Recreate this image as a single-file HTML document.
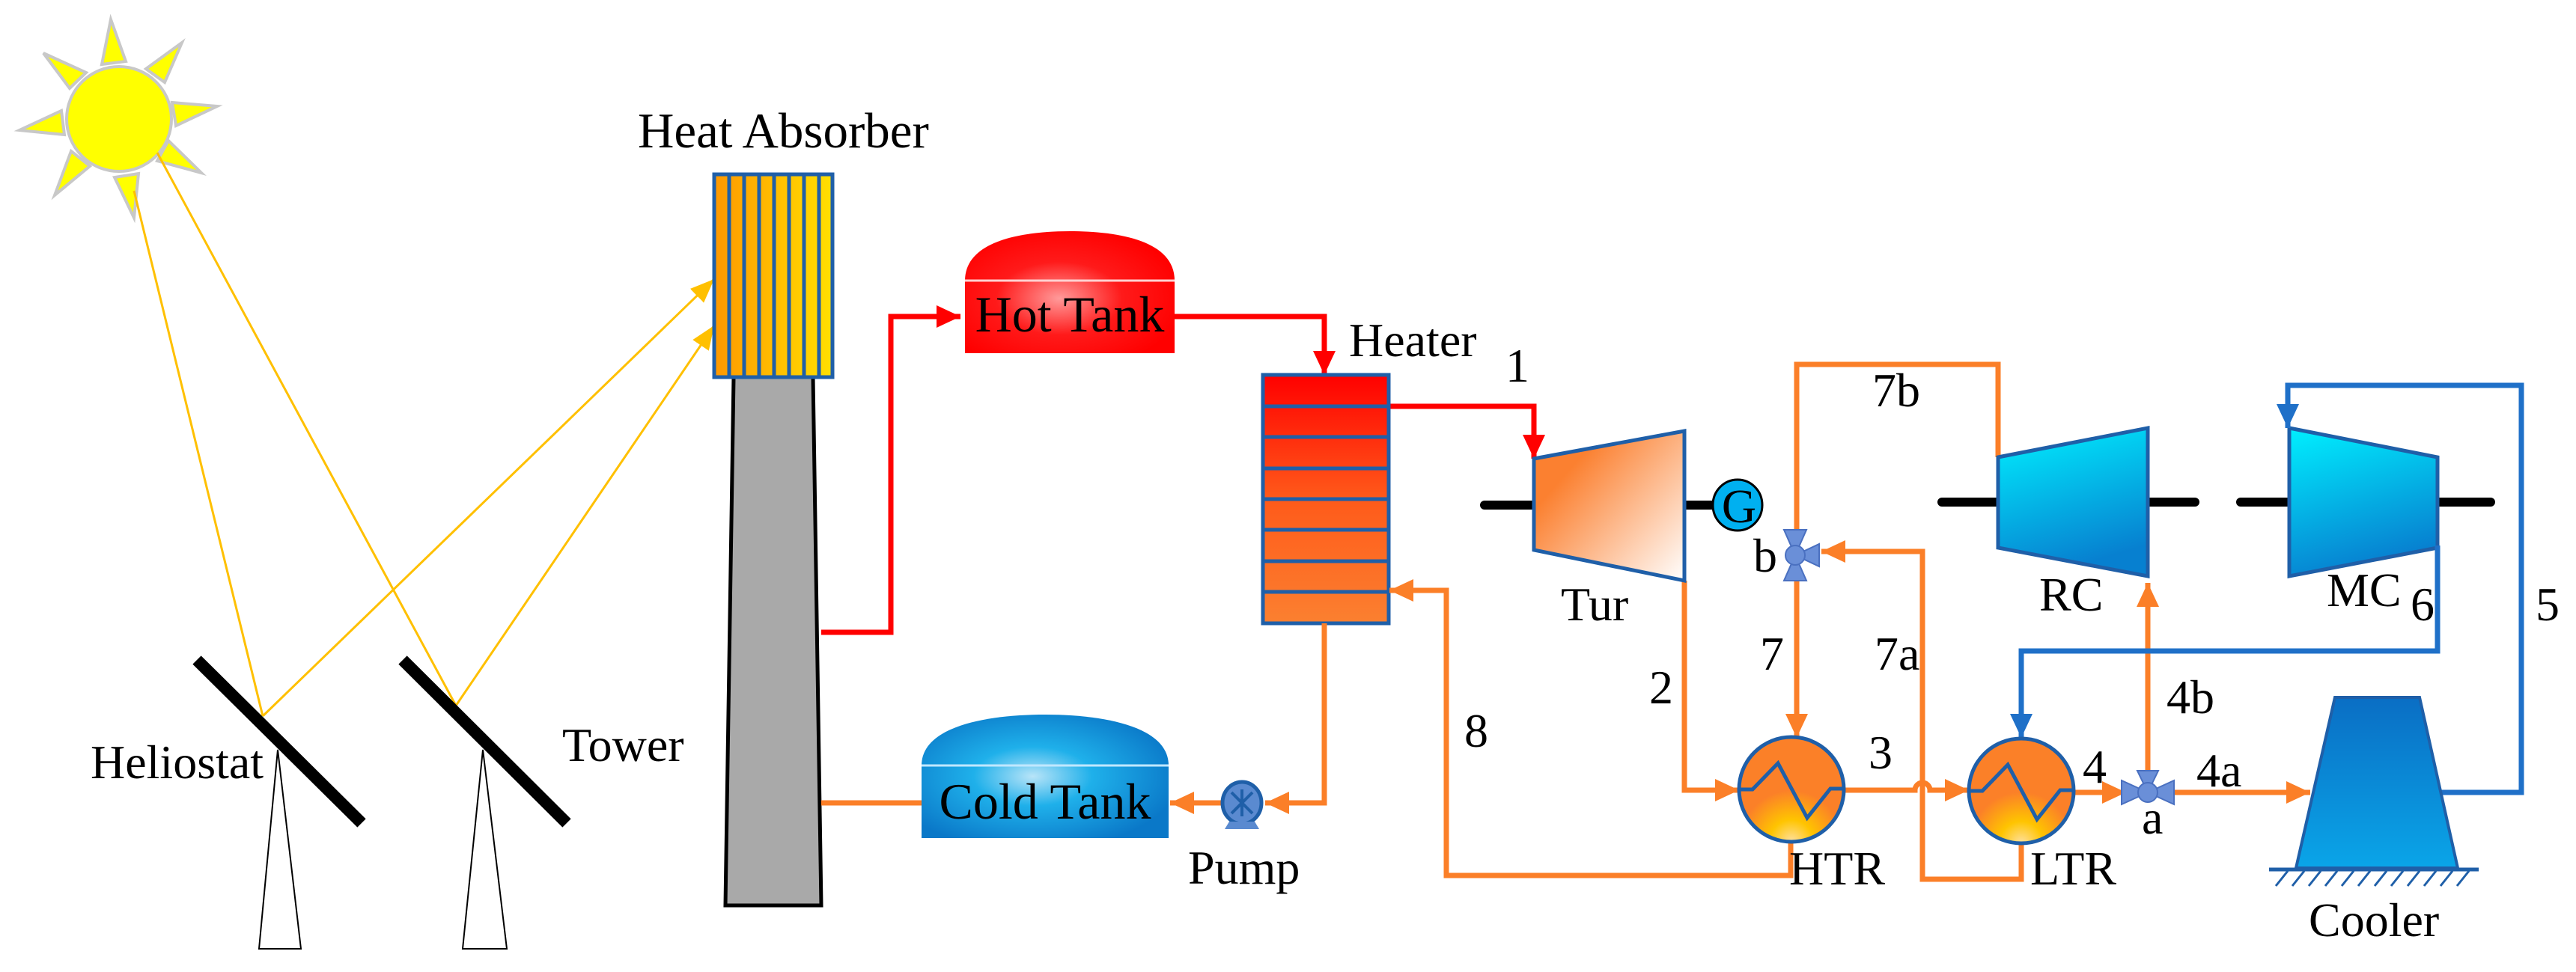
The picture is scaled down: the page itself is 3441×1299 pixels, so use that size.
<!DOCTYPE html>
<html><head><meta charset="utf-8"><style>
html,body{margin:0;padding:0;background:#fff}
svg{display:block}
svg text{font-family:"Liberation Serif","Tinos","Times New Roman",Times,"DejaVu Serif",serif;font-size:64px;fill:#000}
</style></head><body>
<svg width="3441" height="1299" viewBox="0 0 3441 1299" xmlns="http://www.w3.org/2000/svg">
<defs>
<marker id="ao" markerUnits="userSpaceOnUse" markerWidth="34" markerHeight="30" refX="32" refY="15" orient="auto"><path d="M0,0 L32,15 L0,30 Z" fill="#fb7f28"/></marker>
<marker id="ar" markerUnits="userSpaceOnUse" markerWidth="34" markerHeight="30" refX="32" refY="15" orient="auto"><path d="M0,0 L32,15 L0,30 Z" fill="#ff0000"/></marker>
<marker id="ab" markerUnits="userSpaceOnUse" markerWidth="34" markerHeight="30" refX="32" refY="15" orient="auto"><path d="M0,0 L32,15 L0,30 Z" fill="#1f70c8"/></marker>
<marker id="ay" markerUnits="userSpaceOnUse" markerWidth="34" markerHeight="26" refX="32" refY="13" orient="auto"><path d="M0,0 L32,13 L0,26 Z" fill="#ffc000"/></marker>
<radialGradient id="hot" cx="0.45" cy="0.55" r="0.6"><stop offset="0" stop-color="#ff9a9a"/><stop offset="0.5" stop-color="#ff1a1a"/><stop offset="1" stop-color="#ff0000"/></radialGradient>
<radialGradient id="cold" cx="0.45" cy="0.5" r="0.6"><stop offset="0" stop-color="#b8e4f8"/><stop offset="0.4" stop-color="#1fb0ea"/><stop offset="1" stop-color="#0a78c8"/></radialGradient>
<linearGradient id="heat" x1="0" y1="0" x2="0" y2="1"><stop offset="0" stop-color="#ff0000"/><stop offset="0.5" stop-color="#ff5a1a"/><stop offset="1" stop-color="#fb8030"/></linearGradient>
<linearGradient id="tur" x1="0.2" y1="0.3" x2="1" y2="1"><stop offset="0" stop-color="#fb8030"/><stop offset="1" stop-color="#fff"/></linearGradient>
<linearGradient id="cmp" x1="0" y1="0" x2="0.3" y2="1"><stop offset="0" stop-color="#00f0ff"/><stop offset="1" stop-color="#0780d0"/></linearGradient>
<linearGradient id="cool" x1="0" y1="0" x2="0" y2="1"><stop offset="0" stop-color="#0a6ec4"/><stop offset="1" stop-color="#0aa5e8"/></linearGradient>
<radialGradient id="hx" cx="0.5" cy="1" r="0.7"><stop offset="0" stop-color="#ffe0a0"/><stop offset="0.3" stop-color="#ffc400"/><stop offset="0.7" stop-color="#fb8028"/><stop offset="1" stop-color="#fb8028"/></radialGradient>
<linearGradient id="abs" x1="0" y1="0" x2="1" y2="0"><stop offset="0" stop-color="#ff9800"/><stop offset="1" stop-color="#ffe000"/></linearGradient>
</defs>

<g fill="#ffff00" stroke="#c8c8c8" stroke-width="4">
<polygon points="148,26 136,86 168,82"/>
<polygon points="243,57 195,92 220,110"/>
<polygon points="290,142 230,137 235,168"/>
<polygon points="269,231 225,188 210,215"/>
<polygon points="179,291 185,232 153,237"/>
<polygon points="73,261 120,222 95,202"/>
<polygon points="26,174 86,180 82,148"/>
<polygon points="58,71 93,118 115,97"/>
<circle cx="159" cy="159" r="70"/>
</g>

<g stroke="#ffc000" stroke-width="3" fill="none">
<line x1="179" y1="255" x2="351" y2="957"/>
<line x1="210" y1="204" x2="609" y2="943"/>
<line x1="351" y1="957" x2="954" y2="373" marker-end="url(#ay)"/>
<line x1="609" y1="943" x2="954" y2="435" marker-end="url(#ay)"/>
</g>

<polygon points="346,1268 371,1002 402,1268" fill="#fff" stroke="#000" stroke-width="2"/>
<polygon points="618,1268 645,1002 677,1268" fill="#fff" stroke="#000" stroke-width="2"/>
<line x1="263" y1="882" x2="483" y2="1100" stroke="#000" stroke-width="16"/>
<line x1="538" y1="882" x2="757" y2="1100" stroke="#000" stroke-width="16"/>
<text x="121" y="1040">Heliostat</text>
<text x="751" y="1017">Tower</text>

<polygon points="980,504 1086,504 1097,1210 969,1210" fill="#a9a9a9" stroke="#000" stroke-width="5"/>
<rect x="954" y="233" width="158" height="271" fill="url(#abs)" stroke="#1f5fa8" stroke-width="5"/>
<g stroke="#1f5fa8" stroke-width="5">
<line x1="974" y1="233" x2="974" y2="504"/><line x1="994" y1="233" x2="994" y2="504"/>
<line x1="1014" y1="233" x2="1014" y2="504"/><line x1="1034" y1="233" x2="1034" y2="504"/>
<line x1="1054" y1="233" x2="1054" y2="504"/><line x1="1074" y1="233" x2="1074" y2="504"/>
<line x1="1094" y1="233" x2="1094" y2="504"/>
</g>
<text x="852" y="197" style="font-size:67px">Heat Absorber</text>

<path d="M1289,375 C1289,320 1370,309 1429,309 C1490,309 1569,320 1569,375 L1569,472 L1289,472 Z" fill="url(#hot)"/>
<line x1="1289" y1="375" x2="1569" y2="375" stroke="#ffd0d0" stroke-width="3"/>
<text x="1429" y="443" text-anchor="middle" style="font-size:68px">Hot Tank</text>

<path d="M1231,1023 C1231,970 1320,955 1396,955 C1472,955 1561,970 1561,1023 L1561,1120 L1231,1120 Z" fill="url(#cold)"/>
<line x1="1231" y1="1023" x2="1561" y2="1023" stroke="#c0e8ff" stroke-width="3"/>
<text x="1396" y="1094" text-anchor="middle" style="font-size:68px">Cold Tank</text>

<g stroke="#ff0000" stroke-width="7" fill="none">
<polyline points="1097,845 1190,845 1190,423 1283,423" marker-end="url(#ar)"/>
<polyline points="1569,423 1769,423 1769,501" marker-end="url(#ar)"/>
<polyline points="1855,543 2049,543 2049,613" marker-end="url(#ar)"/>
</g>

<rect x="1687" y="501" width="168" height="332" fill="url(#heat)" stroke="#1f5fa8" stroke-width="5"/>
<g stroke="#1f5fa8" stroke-width="5">
<line x1="1687" y1="543" x2="1855" y2="543"/><line x1="1687" y1="584" x2="1855" y2="584"/>
<line x1="1687" y1="626" x2="1855" y2="626"/><line x1="1687" y1="667" x2="1855" y2="667"/>
<line x1="1687" y1="708" x2="1855" y2="708"/><line x1="1687" y1="750" x2="1855" y2="750"/>
<line x1="1687" y1="791" x2="1855" y2="791"/>
</g>
<text x="1802" y="476">Heater</text>

<g stroke="#fb7f28" stroke-width="7" fill="none">
<line x1="1097" y1="1073" x2="1231" y2="1073"/>
<polyline points="1769,833 1769,1073 1690,1073" marker-end="url(#ao)"/>
<line x1="1632" y1="1073" x2="1563" y2="1073" marker-end="url(#ao)"/>
<polyline points="2250,776 2250,1056 2323,1056" marker-end="url(#ao)"/>
<path d="M2462,1056 L2558,1056 A10,10 0 0 1 2578,1056 L2630,1056" marker-end="url(#ao)"/>
<line x1="2770" y1="1059" x2="2840" y2="1059" marker-end="url(#ao)"/>
<line x1="2899" y1="1059" x2="3086" y2="1059" marker-end="url(#ao)"/>
<line x1="2869" y1="1031" x2="2869" y2="779" marker-end="url(#ao)"/>
<polyline points="2400,725 2400,487 2669,487 2669,611"/>
<line x1="2400" y1="760" x2="2400" y2="986" marker-end="url(#ao)"/>
<polyline points="2700,1124 2700,1175 2568,1175 2568,737 2433,737" marker-end="url(#ao)"/>
<polyline points="2392,1123 2392,1170 1932,1170 1932,789 1856,789" marker-end="url(#ao)"/>
</g>

<ellipse cx="1659" cy="1073" rx="26" ry="28" fill="#5a8ad0" stroke="#1f5fa8" stroke-width="5"/>
<path d="M1645,1059 L1673,1087 M1673,1059 L1645,1087 M1659,1055 L1659,1091" stroke="#1f5fa8" stroke-width="4"/>
<polygon points="1642,1098 1676,1098 1682,1108 1636,1108" fill="#5a8ad0"/>
<text x="1587" y="1181">Pump</text>

<line x1="1983" y1="675" x2="2049" y2="675" stroke="#000" stroke-width="12" stroke-linecap="round"/>
<line x1="2250" y1="675" x2="2292" y2="675" stroke="#000" stroke-width="12" stroke-linecap="round"/>
<polygon points="2049,613 2250,576 2250,776 2049,735" fill="url(#tur)" stroke="#1f5fa8" stroke-width="5"/>
<ellipse cx="2321" cy="675" rx="33" ry="34" fill="#00b0f0" stroke="#000" stroke-width="3"/>
<text x="2323" y="698" text-anchor="middle" style="font-size:64px">G</text>
<text x="2085" y="829">Tur</text>

<g stroke="#000" stroke-width="12" stroke-linecap="round">
<line x1="2594" y1="671" x2="2669" y2="671"/><line x1="2869" y1="671" x2="2932" y2="671"/>
<line x1="2993" y1="671" x2="3058" y2="671"/><line x1="3256" y1="671" x2="3327" y2="671"/>
</g>
<polygon points="2669,611 2869,572 2869,770 2669,732" fill="url(#cmp)" stroke="#1f5fa8" stroke-width="5"/>
<polygon points="3058,572 3256,611 3256,732 3058,770" fill="url(#cmp)" stroke="#1f5fa8" stroke-width="5"/>
<text x="2724" y="816">RC</text>
<text x="3108" y="810">MC</text>

<g stroke="#1f70c8" stroke-width="7" fill="none">
<polyline points="3256,729 3256,870 2700,870 2700,986" marker-end="url(#ab)"/>
<polyline points="3261,1059 3368,1059 3368,515 3056,515 3056,572" marker-end="url(#ab)"/>
</g>

<polygon points="3119,932 3232,932 3283,1160 3067,1160" fill="url(#cool)" stroke="#1f5fa8" stroke-width="4"/>
<line x1="3031" y1="1162" x2="3311" y2="1162" stroke="#1f5fa8" stroke-width="5"/>
<g stroke="#1f5fa8" stroke-width="3">
<path d="M3040,1184 L3056,1164 M3062,1184 L3078,1164 M3084,1184 L3100,1164 M3106,1184 L3122,1164 M3128,1184 L3144,1164 M3150,1184 L3166,1164 M3172,1184 L3188,1164 M3194,1184 L3210,1164 M3216,1184 L3232,1164 M3238,1184 L3254,1164 M3260,1184 L3276,1164 M3282,1184 L3298,1164"/>
</g>
<text x="3084" y="1251">Cooler</text>

<g stroke="#1f5fa8" stroke-width="5">
<circle cx="2393" cy="1055" r="70" fill="url(#hx)"/>
<polyline points="2325,1055 2341,1055 2375,1020 2414,1093 2445,1054 2463,1054" fill="none"/>
<circle cx="2700" cy="1057" r="70" fill="url(#hx)"/>
<polyline points="2632,1057 2648,1057 2682,1022 2721,1095 2752,1056 2770,1056" fill="none"/>
</g>
<text x="2390" y="1182">HTR</text>
<text x="2712" y="1182">LTR</text>

<g fill="#6a8fd8" stroke="#4a70c0" stroke-width="2">
<polygon points="2383,708 2413,708 2398,742"/>
<polygon points="2383,776 2413,776 2398,742"/>
<polygon points="2430,727 2430,757 2398,742"/>
<circle cx="2398" cy="742" r="13"/>
<polygon points="2834,1043 2834,1075 2869,1059"/>
<polygon points="2904,1043 2904,1075 2869,1059"/>
<polygon points="2855,1030 2883,1030 2869,1059"/>
<circle cx="2869" cy="1059" r="13"/>
</g>

<text x="2011" y="510">1</text>
<text x="2203" y="940">2</text>
<text x="2496" y="1027">3</text>
<text x="2782" y="1046">4</text>
<text x="2934" y="1051">4a</text>
<text x="2894" y="953">4b</text>
<text x="3387" y="829">5</text>
<text x="3220" y="829">6</text>
<text x="2351" y="895">7</text>
<text x="2504" y="895">7a</text>
<text x="2501" y="543">7b</text>
<text x="1956" y="998">8</text>
<text x="2342" y="764">b</text>
<text x="2861" y="1114">a</text>
</svg>
</body></html>
